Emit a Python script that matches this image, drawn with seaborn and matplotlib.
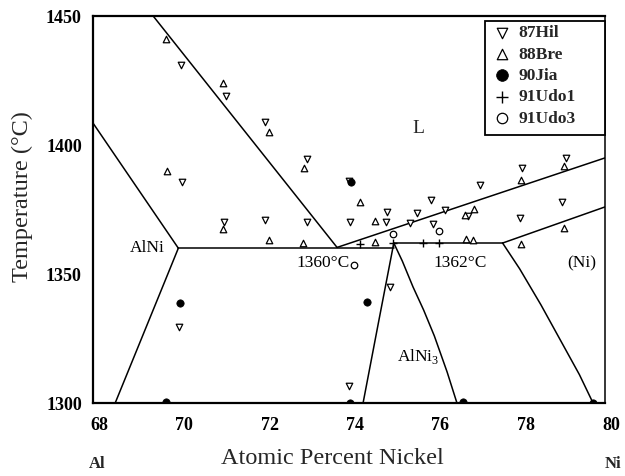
import matplotlib
matplotlib.use("Agg")
import matplotlib.pyplot as plt
import seaborn as sns
from matplotlib import transforms
from matplotlib.patches import Rectangle

sns.set_theme(style="white")
plt.rcParams['font.family'] = ['Liberation Serif', 'DejaVu Serif']
plt.rcParams['mathtext.fontset'] = 'custom'
plt.rcParams['mathtext.rm'] = 'Liberation Serif'

# ---------------- data ----------------
hil_x = [70.06, 71.12, 72.03, 73.02, 70.09, 71.07, 72.03, 73.02, 74.0, 74.03, 74.87, 74.89,
         75.6, 75.43, 75.92, 76.25, 75.97, 76.79, 77.07, 78.05, 79.09, 78.99, 78.0,
         70.02, 74.96, 74.0]
hil_t = [1431, 1419, 1409, 1394.6, 1385.6, 1370, 1371, 1370, 1386, 1370, 1370, 1374,
         1373.6, 1369.8, 1378.7, 1375, 1369.4, 1372.5, 1384.5, 1391, 1395, 1378, 1371.7,
         1329.5, 1345, 1306.6]

bre_x = [69.71, 71.05, 72.12, 72.95, 69.73, 71.05, 72.12, 72.92, 74.26, 74.6, 76.72, 76.93,
         78.03, 79.04, 79.04, 78.03, 74.6, 76.74, 76.9]
bre_t = [1441, 1424, 1405, 1391, 1390, 1367.4, 1363.2, 1362, 1378, 1370.5, 1373, 1375.2,
         1386.4, 1392, 1368, 1361.6, 1362.5, 1363.5, 1363]

jia_x = [74.05, 70.04, 69.71, 74.42, 74.02, 76.67, 79.72]
jia_t = [1385.7, 1338.8, 1300.4, 1339, 1300, 1300.4, 1300]

udo1_x = [74.26, 75.03, 75.73, 76.1]
udo1_t = [1361.5, 1362, 1362, 1362]

udo3_x = [75.03, 76.1, 74.12]
udo3_t = [1365.5, 1366.5, 1353.5]

# phase boundaries
liq_left_x = [69.41, 73.72]
liq_left_t = [1450, 1360.3]
liq_right_x = [73.72, 80.0]
liq_right_t = [1360.3, 1395]
alni_liq_x = [68.0, 70.0]
alni_liq_t = [1408.5, 1360]
alni_sol_x = [70.0, 69.68, 68.52]
alni_sol_t = [1360, 1347, 1300]
eut1360_x = [70.0, 75.05]
eut1360_t = [1360, 1360]
per1362_x = [75.05, 77.6]
per1362_t = [1362, 1362]
ni_sol_x = [77.6, 80.0]
ni_sol_t = [1362, 1376]
alni3_left_x = [75.05, 74.7, 74.33]
alni3_left_t = [1362, 1332, 1300]
alni3_right_x = [75.05, 75.25, 75.5, 75.75, 76.0, 76.3, 76.53]
alni3_right_t = [1362, 1355, 1345, 1336, 1326, 1312, 1300]
ni_solvus_x = [77.6, 78.0, 78.5, 79.0, 79.4, 79.72]
ni_solvus_t = [1362, 1352, 1338, 1323, 1311, 1300]

x_ticks = [68, 70, 72, 74, 76, 78, 80]
y_ticks = [1300, 1350, 1400, 1450]

# ---------------- figure ----------------
fig = plt.figure(figsize=(6.25, 4.76), dpi=100)
ax = fig.add_axes([93 / 625, 1 - 403 / 476, 512 / 625, 387 / 476])

for lx, lt in [(liq_left_x, liq_left_t), (liq_right_x, liq_right_t),
               (alni_liq_x, alni_liq_t), (alni_sol_x, alni_sol_t),
               (eut1360_x, eut1360_t), (per1362_x, per1362_t),
               (ni_sol_x, ni_sol_t), (alni3_left_x, alni3_left_t),
               (alni3_right_x, alni3_right_t), (ni_solvus_x, ni_solvus_t)]:
    sns.lineplot(x=lx, y=lt, sort=False, estimator=None, color='black',
                 linewidth=1.1, ax=ax)

ms = 22
sns.scatterplot(x=hil_x, y=hil_t, marker='v', s=ms, color='white', edgecolor='black',
                linewidth=0.9, ax=ax, label='87Hil', zorder=3)
sns.scatterplot(x=bre_x, y=bre_t, marker='^', s=ms, color='white', edgecolor='black',
                linewidth=0.9, ax=ax, label='88Bre', zorder=3)
sns.scatterplot(x=jia_x, y=jia_t, marker='o', s=28, color='black', edgecolor='black',
                linewidth=0.5, ax=ax, label='90Jia', zorder=3)
sns.scatterplot(x=udo1_x, y=udo1_t, marker='+', s=30, color='black',
                linewidth=1.0, ax=ax, label='91Udo1', zorder=3)
sns.scatterplot(x=udo3_x, y=udo3_t, marker='o', s=ms, color='white', edgecolor='black',
                linewidth=0.9, ax=ax, label='91Udo3', zorder=3)

ax.set_xlim(68, 80)
ax.set_ylim(1300, 1450)
ax.set_xticks(x_ticks)
ax.set_yticks(y_ticks)
ax.set_xlabel('')
ax.set_ylabel('')
ax.grid(False)
for s in ax.spines.values():
    s.set_color('black')
    s.set_linewidth(1.6)
ax.spines['right'].set_linewidth(1.1)

ax.tick_params(axis='both', direction='in', length=3, width=1, colors='black')
ax.tick_params(axis='x', pad=10)
ax.tick_params(axis='y', pad=8)
for lab in ax.get_xticklabels():
    lab.set_fontweight('bold')
    lab.set_fontsize(13)
    lab.set_transform(lab.get_transform() +
                      transforms.ScaledTranslation(6 / 100, 0, fig.dpi_scale_trans))
for lab in ax.get_yticklabels():
    lab.set_fontweight('bold')
    lab.set_fontsize(13)

# legend box (frame drawn separately for asymmetric padding)
ax.add_patch(Rectangle(((485 - 93) / 512, (403 - 135) / 387), (605 - 485) / 512,
                       (135 - 21) / 387, transform=ax.transAxes, facecolor='white',
                       edgecolor='black', linewidth=1.3, zorder=4, clip_on=False))
leg = ax.legend(loc='upper left', bbox_to_anchor=((494 - 93) / 512, (403 - 25) / 387),
                borderaxespad=0, frameon=False, markerscale=1.6, handlelength=0.9,
                handletextpad=0.5, labelspacing=0.3, borderpad=0,
                prop={'family': 'Liberation Serif', 'weight': 'bold', 'size': 12.5})
leg.set_zorder(5)

# region labels
tkw = dict(fontsize=12.5, ha='center', va='center', color='black')
ax.text(75.62, 1406.5, 'L', fontsize=14, ha='center', va='center')
ax.text(69.27, 1359.9, 'AlNi', **tkw)
ax.text(73.40, 1354.3, '1360°C', **tkw)
ax.text(76.6, 1354.3, '1362°C', **tkw)
ax.text(79.46, 1354.3, '(Ni)', **tkw)
ax.text(75.62, 1318, r'AlNi$_\mathrm{3}$', **tkw)

# axis titles
fig.text(22 / 625, 1 - 197 / 476, 'Temperature (°C)', rotation=90, fontsize=17.5,
         ha='center', va='center')
fig.text(332 / 625, 1 - 458 / 476, 'Atomic Percent Nickel', fontsize=17.5,
         ha='center', va='center')
fig.text(97 / 625, 1 - 464 / 476, 'Al', fontsize=12, fontweight='bold',
         ha='center', va='center')
fig.text(613 / 625, 1 - 464 / 476, 'Ni', fontsize=12, fontweight='bold',
         ha='center', va='center')

fig.savefig('out.png', dpi=100)
